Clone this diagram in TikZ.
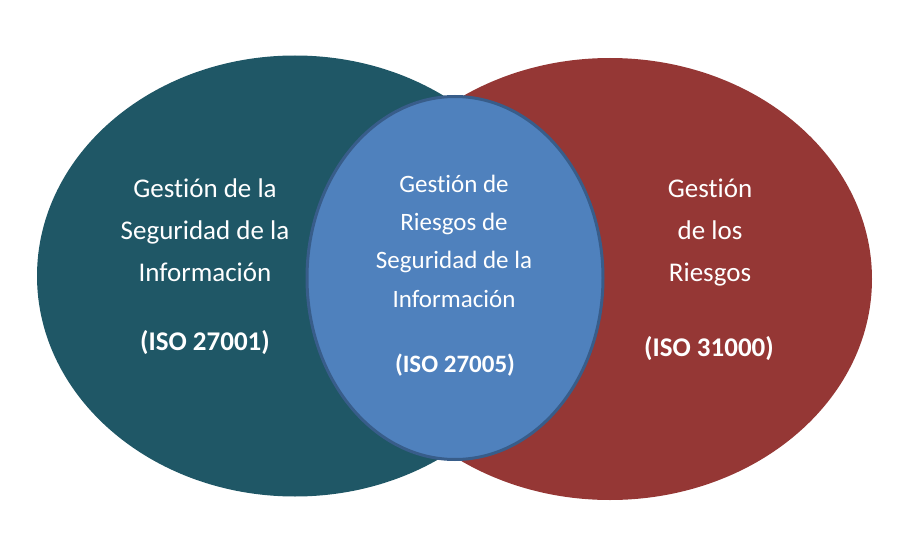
\documentclass[tikz,border=0pt]{standalone}
\usepackage{fontspec}
\setmainfont{Carlito}[Ligatures=NoCommon]
\usetikzlibrary{shapes.geometric, positioning}
\definecolor{isoteal}  {RGB}{31,  87,  102}
\definecolor{isored}   {RGB}{149, 55,  53}
\definecolor{isoblue}  {RGB}{79,  129, 189}
\definecolor{isoborder}{RGB}{56,  93,  138}
\tikzset{
  setarea/.style={
    ellipse, inner sep=0pt, outer sep=0pt, draw=none
  },
  settext/.style={
    text=white, align=center, inner sep=0pt,
    font=\fontsize{27}{42}\selectfont
  },
  midtext/.style={
    text=white, align=center, inner sep=0pt,
    font=\fontsize{25}{38.3}\selectfont
  },
  isotext/.style={
    text=white, inner sep=0pt,
    font=\fontsize{27}{32}\selectfont\bfseries
  },
}

\begin{document}
\begin{tikzpicture}[x=1pt, y=-1pt]
  \useasboundingbox (0,0) rectangle (898,543);

  % Sets
  \node[setarea, fill=isoteal, minimum width=516pt, minimum height=441pt] (seginfo) at (295,276) {};
  \node[setarea, fill=isored,  minimum width=524pt, minimum height=442pt] (riesgos) at (610,279) {};
  \node[setarea, fill=isoblue, draw=isoborder, line width=3pt,
        minimum width=296pt, minimum height=363pt] (comun) at (455,278) {};

  % Texts
  \node[settext] (seginfotxt) at (205,230) {Gestión de la\\Seguridad de la\\Información};
  \node[isotext] (seginfoiso) at (205,343) {(ISO 27001)};

  \node[settext] (riesgostxt) at (710,233) {Gestión\\de los\\Riesgos};
  \node[isotext] (riesgosiso) at (709,349) {(ISO 31000)};

  \node[midtext] (comuntxt) at (454,241) {Gestión de\\Riesgos de\\Seguridad de la\\Información};
  \node[isotext, font=\fontsize{25}{30}\selectfont\bfseries] (comuniso) at (455,365) {(ISO 27005)};
\end{tikzpicture}
\end{document}
